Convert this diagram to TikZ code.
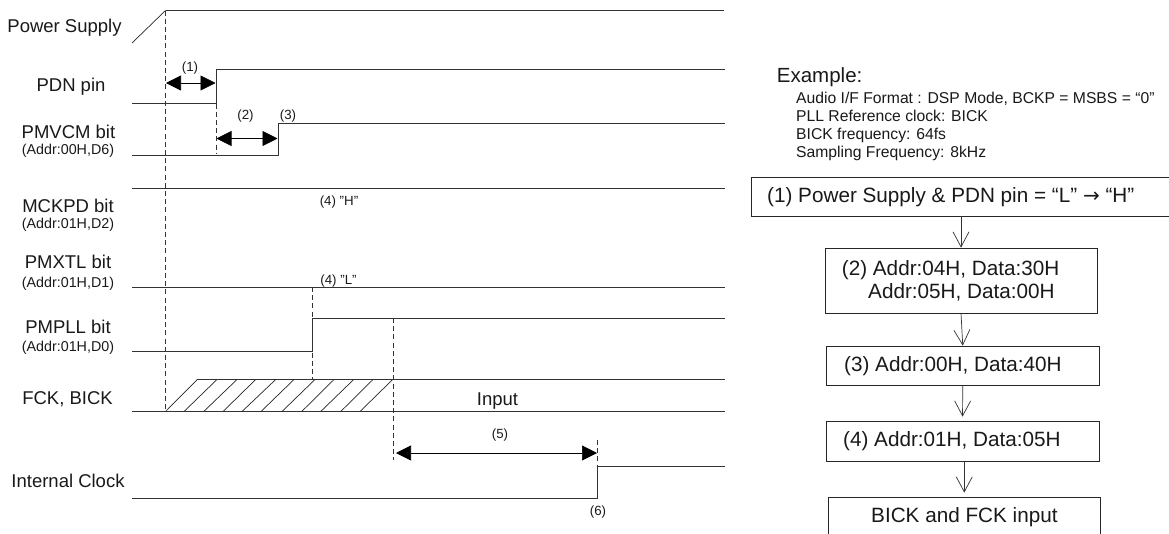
\documentclass[tikz,border=0pt]{standalone}
\usepackage{fontspec}
\setmainfont{Liberation Sans}
\usetikzlibrary{arrows.meta}
\newcommand{\fs}[1]{\fontsize{#1pt}{#1pt}\selectfont}
\tikzset{
  x=1pt,y=-1pt,
  sig/.style={draw=black!80,line width=0.9pt},
  thin sig/.style={draw=black!85,line width=0.7pt},
  guide/.style={draw=black!80,line width=0.7pt,dash pattern=on 5pt off 3.2pt},
  dim/.style={draw=black,line width=0.7pt,{Triangle[length=15pt,width=15pt]}-{Triangle[length=15pt,width=15pt]}},
  flow/.style={draw=black!80,line width=0.7pt,-{Straight Barb[length=15pt,width=16pt]}},
  fbox/.style={draw=black!85,line width=0.8pt,rectangle,inner sep=0pt},
  lab/.style={inner sep=0pt,anchor=base,text=black!90,font=\fs{18.5}},
  sub/.style={inner sep=0pt,anchor=base,text=black!90,font=\fs{14.3}},
  note/.style={inner sep=0pt,anchor=base,text=black!90,font=\fs{13.3}},
  ltext/.style={inner sep=0pt,anchor=base west,text=black!90,font=\fs{20.7}},
  extext/.style={inner sep=0pt,anchor=base west,text=black!90,font=\fs{15.7}},
}
\begin{document}
\begin{tikzpicture}
\useasboundingbox (0,0) rectangle (1169,533);
\clip (0,0) rectangle (1169,533);

% signal labels
\node[lab] (lps) at (64.5,32.5) {Power Supply};
\node[lab] (lpdn) at (71,91) {PDN pin};
\node[lab] (lvcm) at (68.5,138) {PMVCM bit};
\node[sub] (svcm) at (68,154) {(Addr:00H,D6)};
\node[lab] (lmck) at (68,212) {MCKPD bit};
\node[sub] (smck) at (68,228) {(Addr:01H,D2)};
\node[lab] (lxtl) at (68,268.7) {PMXTL bit};
\node[sub] (sxtl) at (68,287) {(Addr:01H,D1)};
\node[lab] (lpll) at (68,333) {PMPLL bit};
\node[sub] (spll) at (68,351) {(Addr:01H,D0)};
\node[lab] (lfck) at (67.5,404.7) {FCK, BICK};
\node[lab] (lint) at (68,487.7) {Internal Clock};

% traces
\draw[thin sig] (132,43) -- (165.5,10.5);
\draw[sig] (165.5,10.5) -- (724,10.5);
\draw[sig] (132,103.5) -- (216,103.5) -- (216,69) -- (725,69);
\draw[sig] (132,155) -- (278.5,155) -- (278.5,123) -- (725,123);
\draw[sig] (132,188) -- (725,188);
\draw[sig] (132,287) -- (725,287);
\draw[sig] (132,351) -- (312,351) -- (312,318) -- (725,318);
\draw[sig] (196.5,379.5) -- (725,379.5);
\draw[sig] (132,411.5) -- (725,411.5);
\draw[sig] (132,498.7) -- (597,498.7) -- (597,466.7) -- (725,466.7);

% hatching
\foreach \a/\b in {165.5/197.3,184/217,203.7/237,223/255.7,242/275.7,261/294,282/315,301.7/334,320.7/353.7,340.7/373,360/392.7}
  \draw[thin sig] (\a,411.5) -- (\b,379.5);

% guides
\draw[guide] (165.5,10.5) -- (165.5,411.5);
\draw[guide] (216,103.5) -- (216,153);
\draw[guide] (312,287) -- (312,379.5);
\draw[guide] (393,318) -- (393,460);
\draw[guide] (597,440) -- (597,467);

% dimension arrows
\coordinate (d1a) at (166,83); \coordinate (d1b) at (215.5,83);
\coordinate (d2a) at (216.5,138.5); \coordinate (d2b) at (277.5,138.5);
\coordinate (d5a) at (396,453); \coordinate (d5b) at (597,453);
\draw[dim] (d1a) -- (d1b);
\draw[dim] (d2a) -- (d2b);
\draw[dim] (d5a) -- (d5b);

% small notes
\node[note] (n1) at (190,71) {(1)};
\node[note] (n2) at (245.5,119) {(2)};
\node[note] (n3) at (288,119) {(3)};
\node[note] (n4h) at (339,205) {(4) "H"};
\node[note] (n4l) at (338.5,284) {(4) "L"};
\node[note] (n5) at (500,438.5) {(5)};
\node[note] (n6) at (598,515.5) {(6)};
\node[lab] (ninput) at (497.5,405) {Input};

% example
\node[inner sep=0pt,anchor=base west,text=black!90,font=\fs{20.5}] (ex) at (776.7,82.7) {Example:};
\node[extext] (ex1) at (796,103.3) {Audio I/F Format : DSP Mode, BCKP = MSBS = “0”};
\node[extext] (ex2) at (796,121.3) {PLL Reference clock: BICK};
\node[extext] (ex3) at (796,139.3) {BICK frequency: 64fs};
\node[extext] (ex4) at (796,157) {Sampling Frequency: 8kHz};

% flow boxes
\node[fbox,minimum width=422pt,minimum height=39pt] (b1) at (962,196.5) {};
\node[fbox,minimum width=272pt,minimum height=65pt] (b2) at (961,280.5) {};
\node[fbox,minimum width=272.5pt,minimum height=39pt] (b3) at (962.75,365.5) {};
\node[fbox,minimum width=273pt,minimum height=40pt] (b4) at (962.5,441) {};
\node[fbox,minimum width=272.5pt,minimum height=40pt] (b5) at (964.25,517) {};

\node[ltext] (t1) at (767,202.7) {(1) Power Supply \& PDN pin = “L” {\fontspec{DejaVu Sans}\fs{20}→} “H”};
\node[ltext] (t2a) at (841.7,275.5) {(2) Addr:04H, Data:30H};
\node[ltext] (t2b) at (868,298.3) {Addr:05H, Data:00H};
\node[ltext] (t3) at (844,371) {(3) Addr:00H, Data:40H};
\node[ltext] (t4) at (843,446.5) {(4) Addr:01H, Data:05H};
\node[ltext] (t5) at (871,522) {BICK and FCK input};

\draw[flow] (b2.north |- b1.south) -- (b2.north);
\draw[flow] (b2.south) -- (b3.north);
\draw[flow,shorten >=4pt] (b3.south) -- (b4.north);
\draw[flow,shorten >=4pt] (b5.north |- b4.south) -- (b5.north);
\end{tikzpicture}
\end{document}
